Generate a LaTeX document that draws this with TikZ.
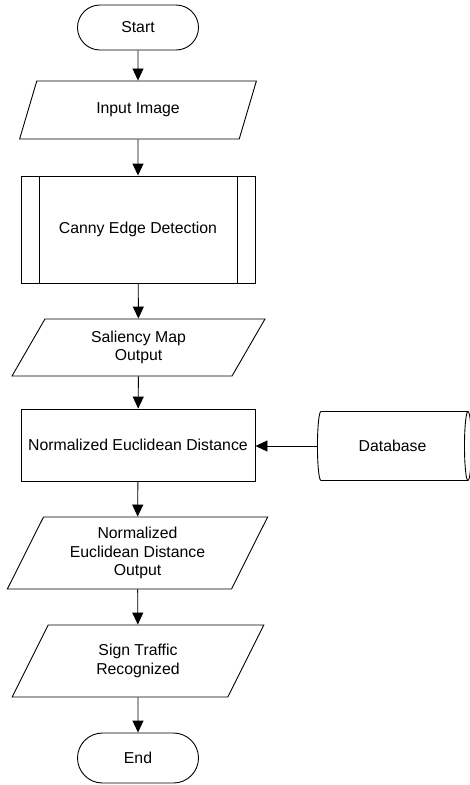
\documentclass[tikz,border=0pt]{standalone}
\usepackage{fontspec}
\setmainfont{Liberation Sans}
\usetikzlibrary{shapes.geometric,shapes.misc,arrows.meta}

\tikzset{
	base/.style={draw, line width=0.9pt, inner sep=0pt, align=center,
		font=\fontsize{15.8}{18.6}\selectfont},
	terminal/.style={base, rounded rectangle, minimum width=121pt},
	io/.style={base, trapezium, trapezium left angle=63.4,
		trapezium right angle=116.6, trapezium stretches=true},
	process/.style={base, rectangle, minimum width=234pt},
	subproc/.style={process, path picture={
		\draw[line width=0.9pt]
			([xshift=18pt]path picture bounding box.north west) -- ([xshift=18pt]path picture bounding box.south west)
			([xshift=-18pt]path picture bounding box.north east) -- ([xshift=-18pt]path picture bounding box.south east);}},
	storage/.style={base, cylinder, aspect=0.6, minimum width=69pt, minimum height=154pt},
	arr/.style={line width=0.9pt, -{Triangle[length=12pt,width=11pt]}}
}

\begin{document}
\begin{tikzpicture}[x=1pt, y=-1pt]
			\useasboundingbox (0,0) rectangle (469,785);
			% main column
			\node[terminal, minimum height=45pt] (start) at (138,27.5) {Start};
			\node[io, minimum width=238pt, minimum height=58pt] (input) at (138,110) {Input Image};
			\node[subproc, minimum height=107pt] (canny) at (138,229.5) {Canny Edge Detection};
			\node[io, minimum width=253pt, minimum height=57pt] (saliency) at (138.5,347.5) {Saliency Map\\Output};
			\node[process, minimum height=72pt] (ned) at (138,445) {Normalized Euclidean Distance};
			\node[io, minimum width=261pt, minimum height=72pt] (nedout) at (137.5,553) {Normalized\\Euclidean Distance\\Output};
			\node[io, minimum width=252pt, minimum height=72pt] (sign) at (138,661) {Sign Traffic\\Recognized};
			\node[terminal, minimum height=50pt] (end) at (138,758) {End};
			% side store
			\node[storage, anchor=west] (db) at (317,446) {Database};

			\draw[arr] (start) -- (input);
			\draw[arr] (input) -- (canny);
			\draw[arr] (canny) -- (saliency);
			\draw[arr] (saliency) -- (ned);
			\draw[arr] (ned) -- (nedout);
			\draw[arr] (nedout) -- (sign);
			\draw[arr] (sign) -- (end);
			\draw[arr] (db.west) -- (db.west -| ned.east);
		\end{tikzpicture}
\end{document}
